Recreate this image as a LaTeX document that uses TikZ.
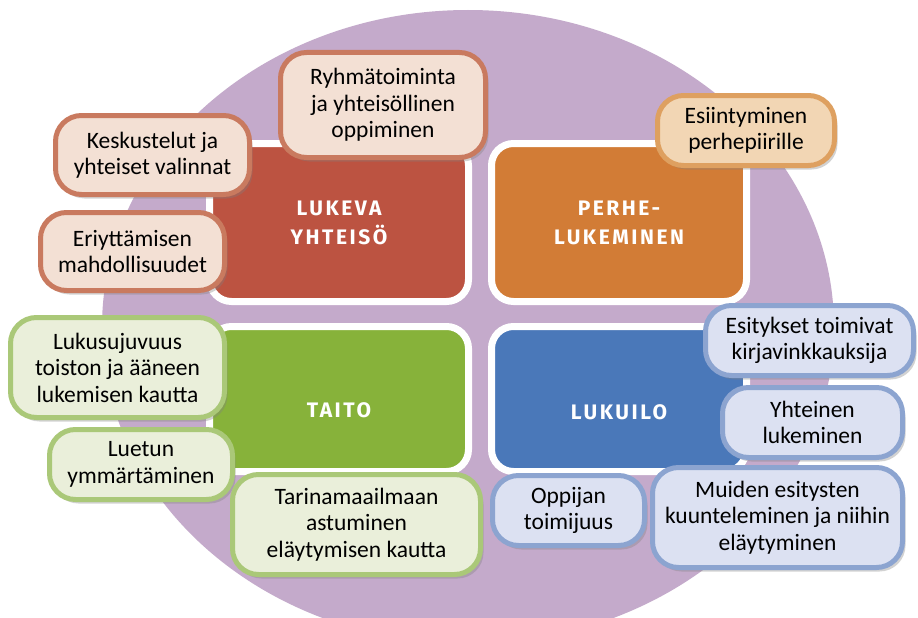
\documentclass[tikz,border=0pt]{standalone}
\usepackage{fontspec}
\setmainfont{Carlito}
\newfontfamily\titlefont[LetterSpace=12]{Fira Sans}
\usetikzlibrary{shadows}
\definecolor{ovalpurple}{HTML}{C4AACB}
\definecolor{boxred}{HTML}{BC5341}
\definecolor{boxorange}{HTML}{D27C36}
\definecolor{boxgreen}{HTML}{87B23A}
\definecolor{boxblue}{HTML}{4A78B9}
\definecolor{redfill}{HTML}{F3E0D4}
\definecolor{redline}{HTML}{C97A5F}
\definecolor{orangefill}{HTML}{F2D6B4}
\definecolor{orangeline}{HTML}{DEA060}
\definecolor{greenfill}{HTML}{EAEFDA}
\definecolor{greenline}{HTML}{AAC878}
\definecolor{bluefill}{HTML}{DCE1F2}
\definecolor{blueline}{HTML}{8CA4D0}
\begin{document}
\begin{tikzpicture}[x=1pt, y=-1pt,
  area/.style={draw=white, line width=7pt, rounded corners=22pt, inner sep=0pt,
    text=white, align=center, font=\titlefont\bfseries\fontsize{21}{29}\selectfont},
  topic/.style={line width=5pt, rounded corners=26pt, inner sep=0pt, align=center,
    font=\fontsize{23.5}{26.5}\selectfont,
    drop shadow={opacity=0.35, shadow xshift=3pt, shadow yshift=-4pt}},
  redtopic/.style={topic, draw=redline, fill=redfill},
  orangetopic/.style={topic, draw=orangeline, fill=orangefill},
  greentopic/.style={topic, draw=greenline, fill=greenfill},
  bluetopic/.style={topic, draw=blueline, fill=bluefill}]
\clip (0,0) rectangle (918,618);
\fill[white] (0,0) rectangle (918,618);
\fill[ovalpurple] (468,327) ellipse [x radius=366pt, y radius=317pt];

\node[area, fill=boxred, minimum width=259pt, minimum height=158pt] (lukeva) at (339,222.5) {LUKEVA\\YHTEISÖ};
\node[area, fill=boxorange, minimum width=255pt, minimum height=158pt] (perhe) at (619,222.5) {PERHE-\\LUKEMINEN};
\node[area, fill=boxgreen, minimum width=259pt, minimum height=145pt] (taito) at (339,399) {\raisebox{-11pt}[\height][0pt]{TAITO}};
\node[area, fill=boxblue, minimum width=255pt, minimum height=145pt] (lukuilo) at (619,399) {\raisebox{-13pt}[\height][0pt]{LUKUILO}};

\node[redtopic, minimum width=205pt, minimum height=105pt] (ryhma) at (383,105) {Ryhmätoiminta\\ja yhteisöllinen\\oppiminen};
\node[redtopic, minimum width=194pt, minimum height=79pt] (keskustelut) at (152.5,155) {Keskustelut ja\\yhteiset valinnat};
\node[redtopic, minimum width=184pt, minimum height=78pt] (eriyttaminen) at (132.5,251.5) {Eriyttämisen\\mahdollisuudet};

\node[orangetopic, minimum width=177pt, minimum height=70pt] (esiintyminen) at (746,130.5) {Esiintyminen\\perhepiirille};

\node[greentopic, minimum width=214pt, minimum height=100pt] (sujuvuus) at (117.5,367.5) {Lukusujuvuus\\toiston ja ääneen\\lukemisen kautta};
\node[greentopic, minimum width=183pt, minimum height=70pt] (luetun) at (141,464.5) {Luetun\\ymmärtäminen};
\node[greentopic, minimum width=248pt, minimum height=100pt] (tarina) at (356.5,524.5) {Tarinamaailmaan\\astuminen\\eläytymisen kautta};

\node[bluetopic, minimum width=208pt, minimum height=70pt] (esitykset) at (809.5,340.5) {Esitykset toimivat\\kirjavinkkauksija};
\node[bluetopic, minimum width=180pt, minimum height=70pt] (yhteinen) at (812.5,422.5) {Yhteinen\\lukeminen};
\node[bluetopic, minimum width=152pt, minimum height=70pt] (oppijan) at (568.5,510.5) {Oppijan\\toimijuus};
\node[bluetopic, minimum width=250pt, minimum height=100pt] (muiden) at (777.5,517.5) {Muiden esitysten\\kuunteleminen ja niihin\\eläytyminen};
\end{tikzpicture}
\end{document}
